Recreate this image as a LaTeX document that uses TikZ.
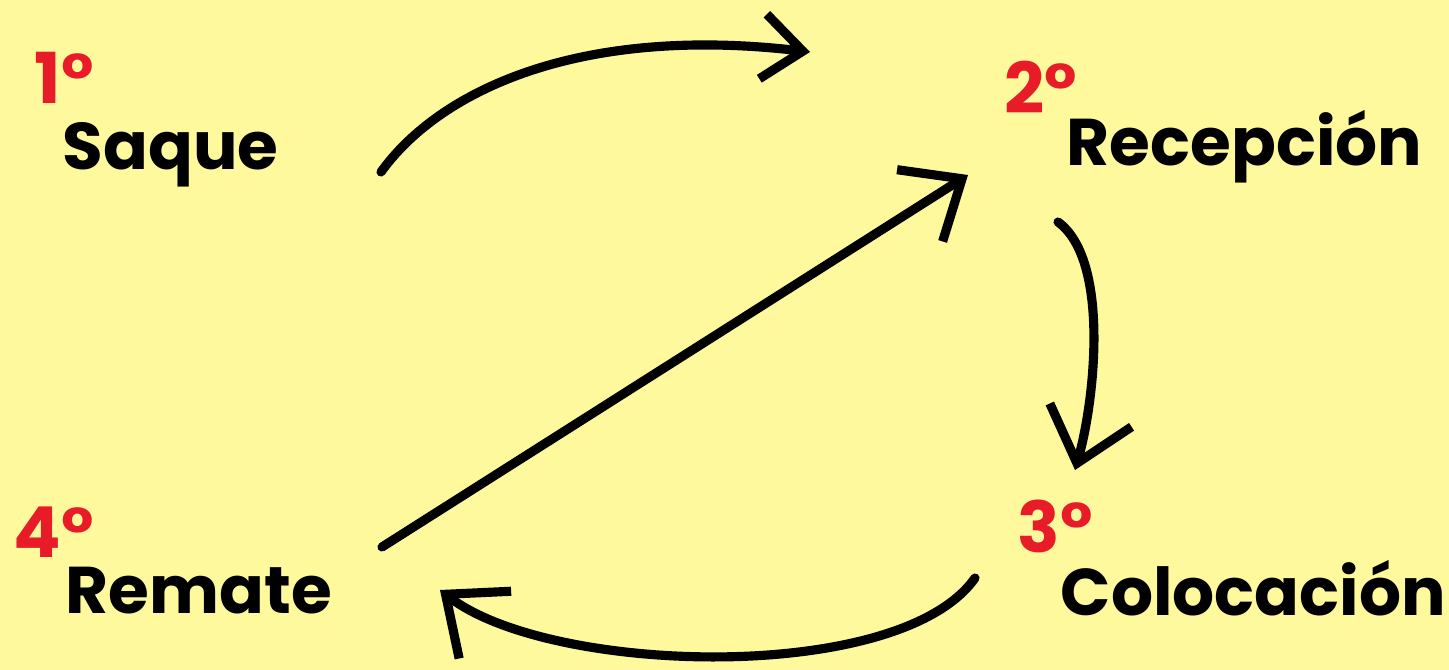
\documentclass[tikz,border=0pt]{standalone}
\usepackage{fontspec}
\setmainfont{Poppins}
\usepackage{tikz}
\usetikzlibrary{arrows.meta,positioning,calc}
\definecolor{paper}{RGB}{255,249,157}
\definecolor{stepred}{RGB}{232,28,40}

\begin{document}
\begin{tikzpicture}[
  every node/.style={font=\fontsize{18.8}{22}\selectfont\bfseries,inner sep=0pt},
  lbl/.style={anchor=base west,text=black},
  num/.style={anchor=base west,text=stepred,font=\fontsize{20}{24}\selectfont\bfseries},
  arr/.style={-{Straight Barb[length=5mm,width=8.5mm]},line width=2.6pt,
    line cap=round,line join=round},
  smallarr/.style={arr,-{Straight Barb[length=4mm,width=6.5mm]}}]
\fill[paper] (0,0) rectangle (14.49,-6.70);
\useasboundingbox (0,0) rectangle (14.49,-6.70);
\node[lbl] (saque) at (0.62,-1.70) {Saque};
\node[lbl] (recep) at (10.66,-1.66) {Recepción};
\node[lbl] (coloc) at (10.60,-6.15) {Colocación};
\node[lbl] (remate) at (0.65,-6.13) {Remate};
\node[num] (n1) at ([xshift=-0.28cm,yshift=0.66cm]saque.base west) {1°};
\node[num] (n2) at ([xshift=-0.62cm,yshift=0.52cm]recep.base west) {2°};
\node[num] (n3) at ([xshift=-0.43cm,yshift=0.63cm]coloc.base west) {3°};
\node[num] (n4) at ([xshift=-0.52cm,yshift=0.56cm]remate.base west) {4°};
\draw[smallarr] ([shift={(3.19,-0.02)}]saque.base west)
  .. controls (4.4,-0.9) and (5.8,-0.25) .. ([shift={(-2.56,1.14)}]recep.base west);
\draw[arr] ([shift={(-0.08,-0.56)}]recep.base west)
  .. controls (11.1,-2.6) and (10.95,-4.0) .. ([shift={(0.15,1.45)}]coloc.base west);
\draw[arr] ([shift={(-0.85,0.37)}]coloc.base west)
  .. controls (9.0,-6.85) and (5.5,-6.75) .. ([shift={(3.75,0.23)}]remate.base west);
\draw[arr] ([shift={(3.17,0.66)}]remate.base west) -- ([shift={(-0.98,-0.09)}]recep.base west);
\end{tikzpicture}
\end{document}
